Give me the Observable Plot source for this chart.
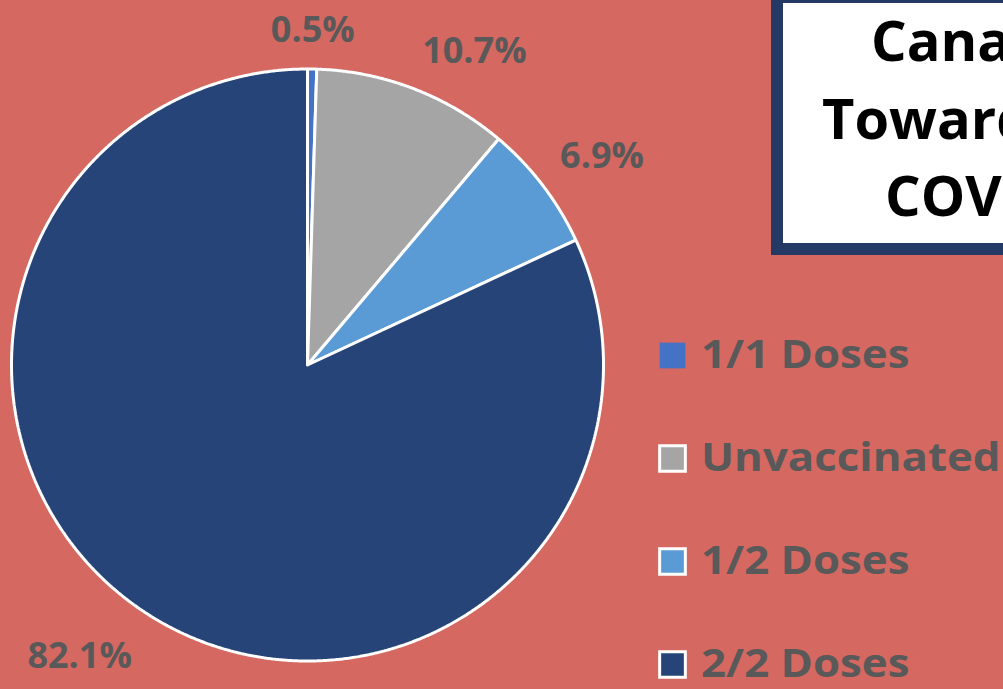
<!DOCTYPE html>
<html>
<head>
<meta charset="utf-8">
<script src="https://cdn.jsdelivr.net/npm/d3@7"></script>
<script src="https://cdn.jsdelivr.net/npm/@observablehq/plot@0.6"></script>
<style>
  html, body { margin: 0; padding: 0; background: #D56861; overflow: hidden; }
  #wrap { position: relative; width: 1003px; height: 689px; overflow: hidden; background: #D56861; }
  #titlebox {
    position: absolute; left: 771px; top: 0px; width: 400px; height: 240px;
    background: #ffffff; border: solid #243A64; border-width: 3px 0 12px 12px;
    font-family: "Open Sans", sans-serif; font-weight: 700; font-size: 56px; color: #000;
  }
  #titlebox div { position: absolute; white-space: nowrap; line-height: 1; }
  g.legend-text { transform-origin: 701px 0px; transform: scaleX(1.095); }
</style>
</head>
<body>
<div id="wrap">
  <div id="chart"></div>
  <div id="titlebox">
    <div style="left:88px; top:8px;">Canada's Progress</div>
    <div style="left:39px; top:86px;">Towards Full</div>
    <div style="left:102px; top:163px;">COVID-19 Vaccination</div>
  </div>
</div>
<script>
// ---- data ----
const categories = ["1/1 Doses", "Unvaccinated", "1/2 Doses", "2/2 Doses"];
const values = [0.5, 10.7, 6.9, 82.1];
const labels = ["0.5%", "10.7%", "6.9%", "82.1%"];
const colors = ["#4472C4", "#A5A5A5", "#5B9BD5", "#264478"];

// ---- layout ----
const W = 1003, H = 689;
const cx = 307, cy = 364.5, R = 296;
// label placement: radius factor and angle nudge (degrees) per slice
const labelLayout = [
  {k: 1.13, da: 0},
  {k: 1.20, da: 7},
  {k: 1.22, da: 2},
  {k: 1.25, da: 5.5}
];

const rows = categories.map((c, i) => ({category: c, value: values[i], label: labels[i], i}));
const arcs = d3.pie().sort(null).value(d => d.value)(rows);

const pt = (a, r) => ({x: cx + r * Math.sin(a), y: cy - r * Math.cos(a)});

const slicePts = [];
arcs.forEach(a => {
  const n = Math.max(4, Math.ceil((a.endAngle - a.startAngle) / 0.005));
  slicePts.push({category: a.data.category, ...pt(0, 0)});
  for (let j = 0; j <= n; j++) {
    const t = a.startAngle + (a.endAngle - a.startAngle) * j / n;
    slicePts.push({category: a.data.category, ...pt(t, R)});
  }
  slicePts.push({category: a.data.category, ...pt(0, 0)});
});

const labelPts = arcs.map((a, i) => {
  const mid = (a.startAngle + a.endAngle) / 2 + labelLayout[i].da * Math.PI / 180;
  return {label: a.data.label, ...pt(mid, R * labelLayout[i].k)};
});

const legendX = 672, legendTextX = 701, legendY0 = 355, legendStep = 103;
const legendPts = categories.map((c, i) => ({category: c, x: legendX, y: legendY0 + i * legendStep}));

const chart = Plot.plot({
  width: W, height: H,
  margin: 0,
  style: {background: "transparent"},
  x: {domain: [0, W], range: [0, W], axis: null},
  y: {domain: [0, H], range: [0, H], axis: null},
  color: {domain: categories, range: colors},
  marks: [
    Plot.line(slicePts, {x: "x", y: "y", z: "category", fill: "category", stroke: "white", strokeWidth: 3, strokeLinejoin: "miter", curve: "linear"}),
    Plot.text(labelPts, {x: "x", y: "y", text: "label", fill: "#595959", fontSize: 36, fontWeight: "bold", fontFamily: "Open Sans", textAnchor: "middle", lineAnchor: "middle"}),
    Plot.dot(legendPts, {x: "x", y: "y", symbol: "square", r: 14.5, fill: "category",
      stroke: d => d.category === "1/1 Doses" ? "none" : "white", strokeWidth: 3}),
    Plot.text(legendPts, {x: legendTextX, y: "y", text: "category", fill: "#595959", fontSize: 40, fontWeight: "bold", fontFamily: "Open Sans", textAnchor: "start", lineAnchor: "middle", className: "legend-text"})
  ]
});
document.getElementById("chart").appendChild(chart);
</script>
</body>
</html>
